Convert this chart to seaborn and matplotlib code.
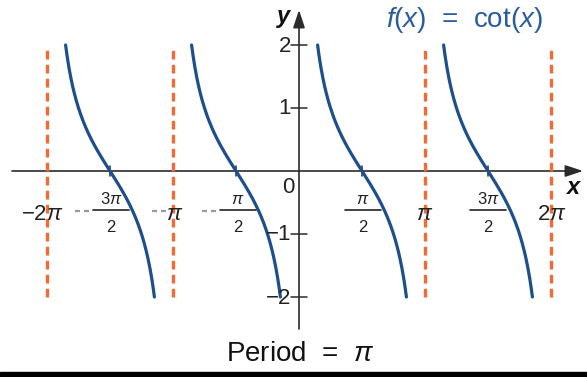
import numpy as np
import pandas as pd
import seaborn as sns
import matplotlib
matplotlib.use("Agg")
import matplotlib.pyplot as plt
from matplotlib.patches import Rectangle

# ---- data ----
branch_starts = [-2 * np.pi, -np.pi, 0.0, np.pi]          # left asymptote of each branch
asymptotes = [-2 * np.pi, -np.pi, np.pi, 2 * np.pi]
y_clip = 2.0
x_tick_vals = [-3 * np.pi / 2, -np.pi / 2, np.pi / 2, 3 * np.pi / 2]
y_tick_vals = [-2, -1, 1, 2]
title_text = "$f$($x$)  =  cot($x$)"
caption_text = "Period  =  $\\pi$"

CURVE = "#1d4f8c"
ASYM = "#f26b36"
AXIS = "#2b2b2b"

sns.set_theme(style="white")
plt.rcParams["font.family"] = ["Liberation Sans", "DejaVu Sans"]
plt.rcParams["mathtext.fontset"] = "custom"
plt.rcParams["mathtext.rm"] = "Liberation Sans"
plt.rcParams["mathtext.it"] = "Liberation Sans:italic"
plt.rcParams["mathtext.bf"] = "Liberation Sans:bold"

W, H = 587, 377
fig = plt.figure(figsize=(W / 100, H / 100), dpi=100)
ax = fig.add_axes([0, 0, 1, 1])

# pixel mapping: x=0 at px 299, pi -> 126 px ; y=0 at px 171, 1 -> 63 px
X0, SX = 299.0, 126.0 / np.pi
Y0, SY = 171.0, 63.0
ax.set_xlim(-X0 / SX, (W - X0) / SX)
ax.set_ylim(-(H - Y0) / SY, Y0 / SY)
for s in ax.spines.values():
    s.set_visible(False)
ax.set_xticks([])
ax.set_yticks([])

def px(xp):
    return xp / W
def py(yp):
    return 1 - yp / H

# curves
x_off = np.arctan(1 / y_clip)
for b in branch_starts:
    xs = np.linspace(b + x_off, b + np.pi - x_off, 300)
    df = pd.DataFrame({"x": xs, "y": np.cos(xs) / np.sin(xs)})
    sns.lineplot(data=df, x="x", y="y", ax=ax, color=CURVE, lw=2.3, sort=False, zorder=4)

# asymptotes
ax.vlines(asymptotes, -y_clip, y_clip, colors=ASYM, linestyles=(0, (2.6, 1.6)), lw=2.4, zorder=3)

# axes with arrows
ax.annotate("", xy=((583 - X0) / SX, 0), xytext=((12 - X0) / SX, 0),
            arrowprops=dict(arrowstyle="-|>,head_length=0.9,head_width=0.3", color=AXIS, lw=1.2,
                            shrinkA=0, shrinkB=0), zorder=2)
ax.annotate("", xy=(0, (Y0 - 10) / SY), xytext=(0, -(329 - Y0) / SY),
            arrowprops=dict(arrowstyle="-|>,head_length=0.9,head_width=0.3", color=AXIS, lw=1.2,
                            shrinkA=0, shrinkB=0), zorder=2)

# ticks
for xv in x_tick_vals:
    ax.plot([xv, xv], [-5 / SY, 5 / SY], color=AXIS, lw=1.1, zorder=2)
for yv in y_tick_vals:
    ax.plot([-8 / SX, 8 / SX], [yv, yv], color=AXIS, lw=1.1, zorder=2)

# y tick labels
for yv in y_tick_vals:
    lab = str(yv).replace("-", "\u2212")
    fig.text(px(291), py(Y0 - yv * SY + 1), lab, ha="right", va="center", fontsize=16, color="#222222")
fig.text(px(288), py(188), "0", ha="center", va="center", fontsize=16, color="#222222")

# x tick labels
GRAY = "#9a9a9a"
def gray_minus(x_right):
    for a in (x_right - 15, x_right - 6):
        fig.add_artist(plt.Line2D([px(a), px(a + 5)], [py(211), py(211)], color=GRAY, lw=1.6,
                                  solid_capstyle="butt", transform=fig.transFigure))

fig.text(px(42), py(215), "\u22122$\\pi$", ha="center", va="center", fontsize=16, color="#222222")
gray_minus(167)
fig.text(px(175), py(215), "$\\pi$", ha="center", va="center", fontsize=16, color="#222222")
fig.text(px(425), py(215), "$\\pi$", ha="center", va="center", fontsize=16, color="#222222")
fig.text(px(552), py(215), "2$\\pi$", ha="center", va="center", fontsize=16, color="#222222")

def frac(cx, num, neg):
    fig.text(px(cx), py(199), num, ha="center", va="center", fontsize=12, color="#222222")
    fig.text(px(cx), py(228), "2", ha="center", va="center", fontsize=12, color="#222222")
    half = 11 if len(num) < 5 else 18
    fig.add_artist(plt.Line2D([px(cx - half), px(cx + half)], [py(210), py(210)],
                              color="#222222", lw=1.2, transform=fig.transFigure))
    if neg:
        gray_minus(cx - half - 3)

frac(111, "3$\\pi$", True)
frac(238, "$\\pi$", True)
frac(363, "$\\pi$", False)
frac(488, "3$\\pi$", False)

# axis names
fig.text(px(573), py(188), "x", ha="center", va="center", fontsize=17,
         fontweight="bold", fontstyle="italic", color="#111111")
fig.text(px(284), py(16), "y", ha="center", va="center", fontsize=17,
         fontweight="bold", fontstyle="italic", color="#111111")

# title and caption
fig.text(px(464), py(20), title_text, ha="center", va="center", fontsize=20, color="#2a5ca0")
fig.text(px(300), py(354), caption_text, ha="center", va="center", fontsize=20, color="#111111")

# bottom black band
fig.add_artist(Rectangle((0, 0), 1, 5 / H, transform=fig.transFigure, color="black", zorder=10))

fig.savefig("out.png", dpi=100)
